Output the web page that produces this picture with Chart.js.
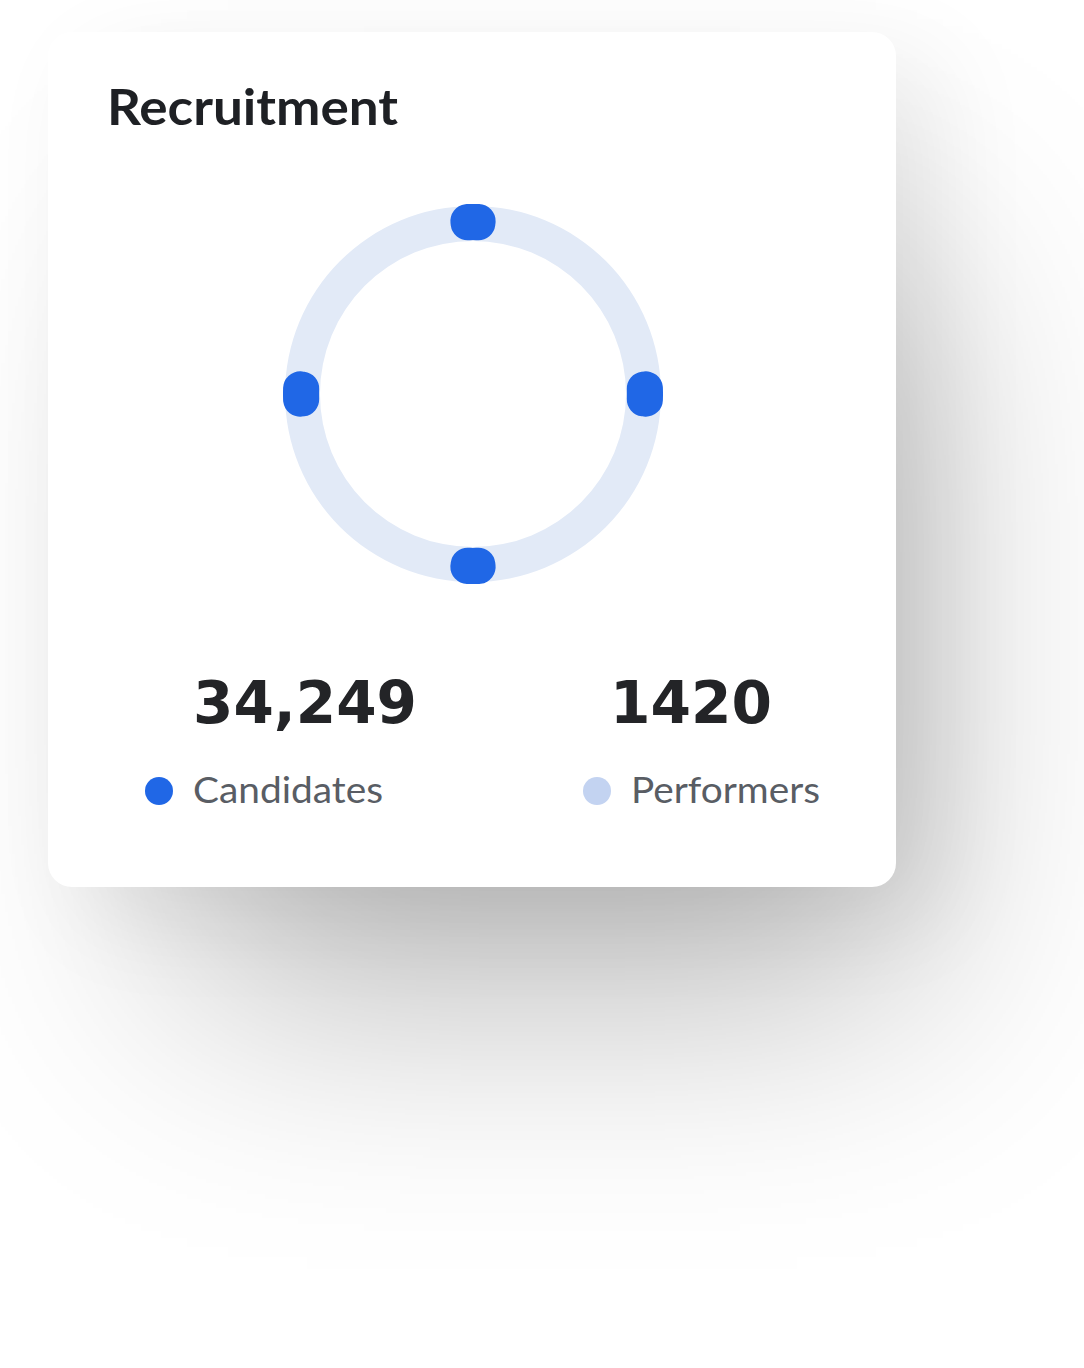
<!DOCTYPE html>
<html>
<head>
<meta charset="utf-8">
<script src="https://cdn.jsdelivr.net/npm/chart.js"></script>
<style>
  html, body { margin: 0; padding: 0; background: #ffffff; }
  body { width: 1084px; height: 1368px; position: relative; overflow: hidden; }
  .card {
    position: absolute; left: 48px; top: 32px; width: 848px; height: 855px;
    background: #ffffff; border-radius: 24px;
    box-shadow: 80px 169px 240px -60px rgba(0,0,0,0.28), 40px 30px 100px 0 rgba(0,0,0,0.08);
  }
  .abs { position: absolute; white-space: nowrap; transform-origin: left top; }
  .title { font-family: Lato, sans-serif; font-weight: 700; font-size: 50px; line-height: 50px; color: #1e2024; }
  .num { font-family: "DejaVu Sans", sans-serif; font-weight: 700; font-size: 59px; line-height: 59px; color: #232427; }
  .lbl { font-family: Lato, sans-serif; font-weight: 400; font-size: 36px; line-height: 36px; color: #595d64; }
  .dot { position: absolute; width: 28px; height: 28px; border-radius: 50%; }
  .chartbox { position: absolute; left: 263px; top: 184px; width: 420px; height: 420px; }
  .chartbox canvas { position: absolute; left: 0; top: 0; }
</style>
</head>
<body>
<div class="card"></div>
<div id="title" class="abs title" style="left:107px; top:81px;">Recruitment</div>
<div class="chartbox"><canvas id="track"></canvas></div>
<div class="chartbox"><canvas id="markers"></canvas></div>
<div id="legend"></div>
<script>
// ---- data ----
const categories = ['Candidates', 'Performers'];
const totals = [34249, 1420];
const totalLabels = ['34,249', '1420'];
const categoryColors = ['#2067E6', '#C3D3F1'];
const trackValues = [100];
const markerValues = [15, 75, 15, 75, 15, 75, 15, 75];
const markerIsDot = [true, false, true, false, true, false, true, false];

// ---- styling ----
const BLUE = '#2067E6';
const TRACK = '#E2EAF7';

const common = {
  responsive: true,
  maintainAspectRatio: false,
  animation: false,
  events: [],
  layout: { padding: 0 },
  plugins: { legend: { display: false }, tooltip: { enabled: false } }
};

new Chart(document.getElementById('track'), {
  type: 'doughnut',
  data: { labels: ['track'], datasets: [{ data: trackValues, backgroundColor: TRACK, borderWidth: 0 }] },
  options: Object.assign({}, common, { radius: 188, cutout: '81.4%' })
});

new Chart(document.getElementById('markers'), {
  type: 'doughnut',
  data: {
    labels: markerValues.map((v, i) => 'm' + i),
    datasets: [{
      data: markerValues,
      backgroundColor: markerIsDot.map(d => d ? BLUE : 'rgba(0,0,0,0)'),
      borderRadius: markerIsDot.map(d => d ? 17 : 0),
      borderWidth: 0
    }]
  },
  options: Object.assign({}, common, { radius: 190, cutout: '81%', rotation: -7.5 })
});

// ---- legend / totals built from data ----
const legend = document.getElementById('legend');
const numPos = [{ left: 193, top: 673, w: 224 }, { left: 610, top: 673, w: 162 }];
const dotPos = [{ cx: 159, cy: 791 }, { cx: 597, cy: 791 }];
const lblPos = [{ left: 193, top: 771, w: 190 }, { left: 631, top: 771, w: 189 }];
const fits = [];
categories.forEach((c, i) => {
  const n = document.createElement('div');
  n.className = 'abs num';
  n.style.left = numPos[i].left + 'px'; n.style.top = numPos[i].top + 'px';
  n.textContent = totalLabels[i];
  legend.appendChild(n); fits.push([n, numPos[i].w]);
  const d = document.createElement('div');
  d.className = 'dot';
  d.style.left = (dotPos[i].cx - 14) + 'px'; d.style.top = (dotPos[i].cy - 14) + 'px';
  d.style.background = categoryColors[i];
  legend.appendChild(d);
  const l = document.createElement('div');
  l.className = 'abs lbl';
  l.style.left = lblPos[i].left + 'px'; l.style.top = lblPos[i].top + 'px';
  l.textContent = c;
  legend.appendChild(l); fits.push([l, lblPos[i].w]);
});
fits.push([document.getElementById('title'), 291]);
fits.forEach(([el, w]) => {
  const r = el.getBoundingClientRect().width;
  if (r > 0) el.style.transform = 'scaleX(' + (w / r).toFixed(4) + ')';
});
</script>
</body>
</html>
